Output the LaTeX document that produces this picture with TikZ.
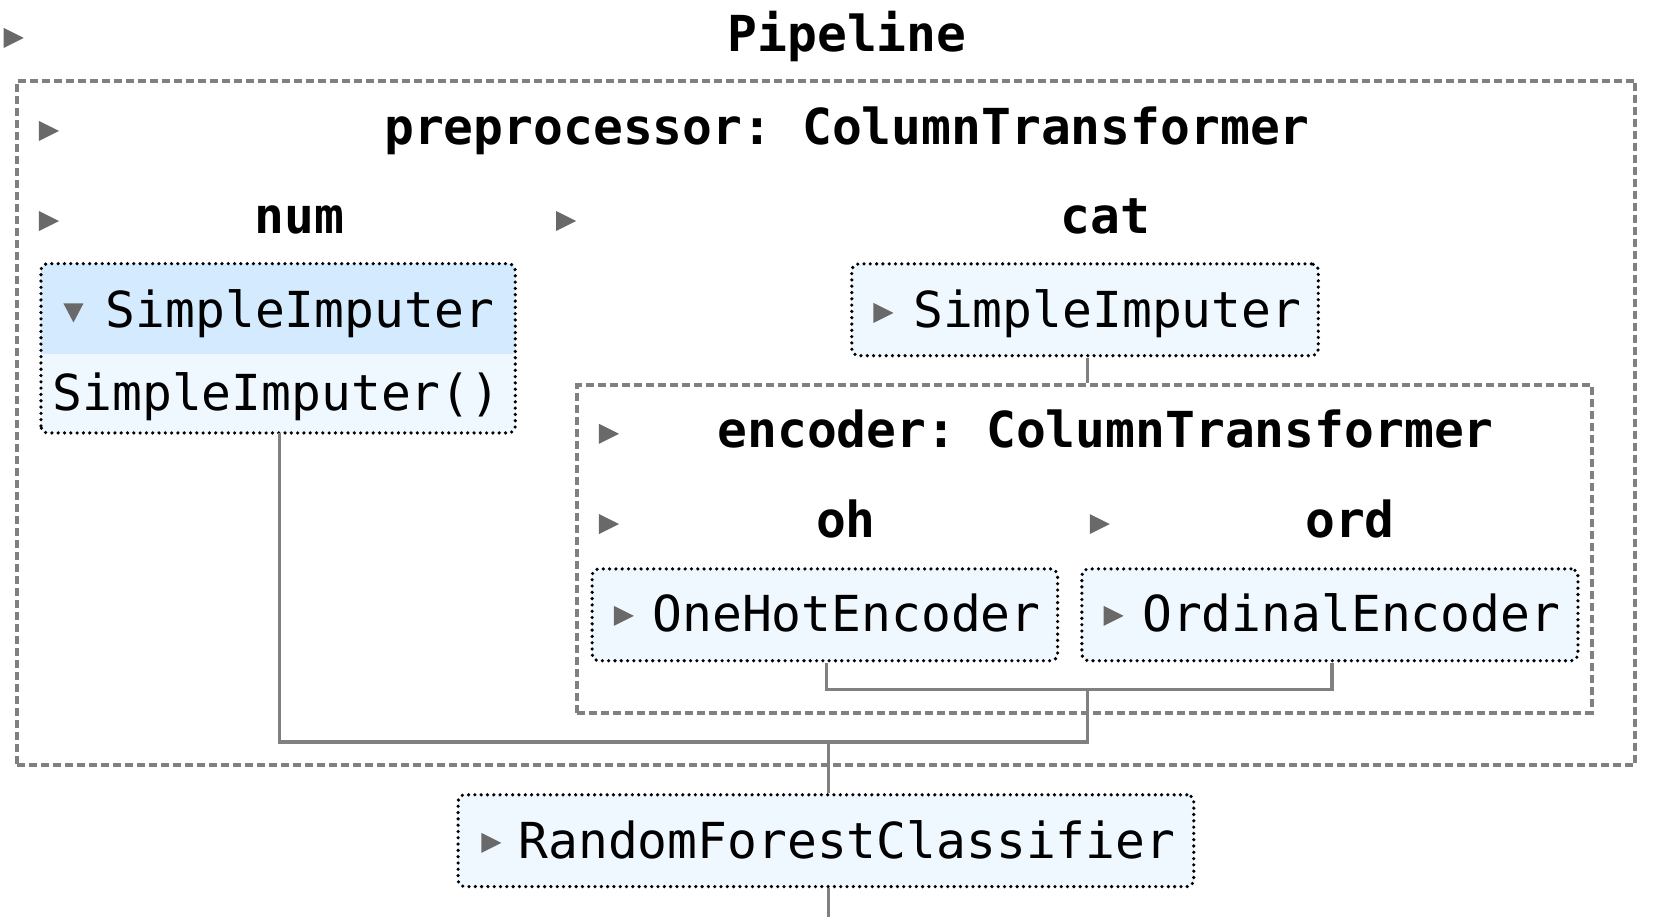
\documentclass[tikz,border=0pt]{standalone}
\usepackage{fontspec}
\newfontfamily\dvm{DejaVu Sans Mono}
\usetikzlibrary{fit}
\definecolor{trigray}{HTML}{696969}
\definecolor{headblue}{HTML}{D4EBFF}
\definecolor{lightblue}{HTML}{F0F8FF}
\definecolor{linegray}{HTML}{808080}
\frenchspacing
\begin{document}
\frenchspacing
\begin{tikzpicture}[x=1.0555pt,y=-1.0555pt,
  lbl/.style={font=\dvm\bfseries\fontsize{49.6}{60}\selectfont\frenchspacing, anchor=base, inner sep=0pt},
  txt/.style={font=\dvm\fontsize{49.6}{60}\selectfont, anchor=base west, inner sep=0pt},
  estfill/.style={fill=lightblue, inner sep=0pt, rounded corners=7pt},
  estline/.style={draw=black, line width=3.6pt, dash pattern=on 0pt off 6.3pt, line cap=round, rounded corners=7pt},
  estbox/.style={estfill, estline},
  ctbox/.style={draw=linegray, line width=3.8pt, dash pattern=on 8pt off 4pt, inner sep=0pt},
  conn/.style={draw=linegray, line width=3.2pt},
  rtri/.pic={\fill[trigray] (-9.5,-9.5) -- (9.5,0) -- (-9.5,9.5) -- cycle;},
  dtri/.pic={\fill[trigray] (-9.5,-8.5) -- (9.5,-8.5) -- (0,9.5) -- cycle;}
]
\useasboundingbox (0,0) rectangle (1568,869);

% containers
\node[ctbox, fit={(16,76.5) (1549,725)}] (prep) {};
\node[ctbox, fit={(547,365) (1508,675.5)}] (enc) {};

% num SimpleImputer (expanded)
\node[estfill, fit={(39,250) (488,410)}] (numsi) {};
\begin{scope}
  \clip (39,250) rectangle (488,335);
  \fill[headblue, rounded corners=7pt] (39,250) rectangle (488,410);
\end{scope}
\draw[estline] (numsi.south west) rectangle (numsi.north east);

% estimator boxes
\node[estbox, fit={(807,250) (1249,337)}] (catsi) {};
\node[estbox, fit={(561,539) (1002,626)}] (ohe) {};
\node[estbox, fit={(1025,539) (1495,626)}] (ord) {};
\node[estbox, fit={(434,753) (1131,840)}] (rf) {};

% labels
\pic at (13,36) {rtri};
\node[lbl] (tpipe) at (802.5,49) {Pipeline};
\pic at (46.4,124) {rtri};
\node[lbl] (tprep) at (802.5,137) {preprocessor: ColumnTransformer};
\pic at (46.4,209.4) {rtri};
\node[lbl] (tnum) at (284,221) {num};
\pic at (536.4,209.4) {rtri};
\node[lbl] (tcat) at (1047,221) {cat};
\pic at (577,411) {rtri};
\node[lbl] (tenc) at (1047.5,424) {encoder: ColumnTransformer};
\pic at (577,496.5) {rtri};
\node[lbl] (toh) at (801.5,509) {oh};
\pic at (1042,496.5) {rtri};
\node[lbl] (tord) at (1279,509) {ord};

% estimator texts
\pic at (69.6,296) {dtri};
\node[txt] (tnumsi) at (100,310) {SimpleImputer};
\node[txt, anchor=base] (tnumsi2) at (262,389) {SimpleImputer()};
\pic at (837,296.5) {rtri};
\node[txt] (tcatsi) at (865,310) {SimpleImputer};
\pic at (591,583.5) {rtri};
\node[txt] (tohe) at (618,598) {OneHotEncoder};
\pic at (1055,583.5) {rtri};
\node[txt] (tord2) at (1082,598) {OrdinalEncoder};
\pic at (465.5,798.5) {rtri};
\node[txt] (trf) at (491,813) {RandomForestClassifier};

% connectors
\coordinate (encjoin) at (1030,653);
\coordinate (jtop) at (785,703);
\coordinate (bottom) at (785,869);
\draw[conn] (catsi.south -| encjoin) -- (encjoin |- enc.north);
\draw[conn] (ohe.south -| 783,0) |- (encjoin) -| (ord.south -| 1262,0);
\draw[conn] (numsi.south -| 265,0) |- (encjoin |- jtop) -- (encjoin);
\draw[conn] (jtop) -- (jtop |- rf.north);
\draw[conn] (rf.south -| bottom) -- (bottom);
\end{tikzpicture}
\end{document}
